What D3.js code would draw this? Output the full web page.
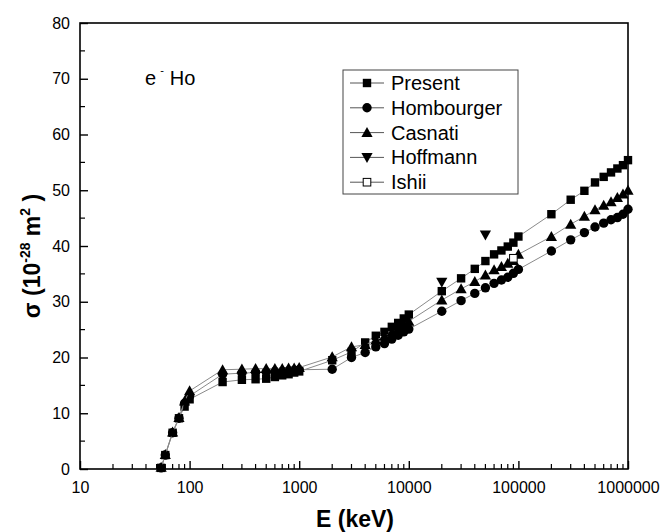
<!DOCTYPE html>
<html>
<head>
<meta charset="utf-8">
<script src="https://cdn.jsdelivr.net/npm/d3@7"></script>
<style>
  body { margin: 0; background: #fff; }
  svg { display: block; font-family: Arial, "Liberation Sans", sans-serif; }
</style>
</head>
<body>
<svg id="chart" width="661" height="532"></svg>
<script>
const energies = [55,60,70,80,90,100,200,300,400,500,600,700,800,900,1000,2000,3000,4000,5000,6000,7000,8000,9000,10000,20000,30000,40000,50000,60000,70000,80000,90000,100000,200000,300000,400000,500000,600000,700000,800000,900000,1000000];
const present    = [0.2,2.5,6.5,9.1,11.2,12.5,15.6,16.0,16.1,16.2,16.5,16.8,17.0,17.3,17.5,19.5,21.0,22.7,23.9,24.6,25.5,26.2,27.0,27.7,31.9,34.2,35.9,37.3,38.5,39.2,39.9,40.6,41.7,45.7,48.3,49.9,51.4,52.4,53.2,53.9,54.5,55.4];
const hombourger = [0.2,2.5,6.5,9.1,11.8,13.1,17.0,17.2,17.3,17.4,17.5,17.5,17.6,17.7,17.8,17.9,20.0,20.9,21.9,22.5,23.3,24.0,24.6,25.1,28.3,30.2,31.5,32.5,33.3,33.9,34.4,35.1,35.8,39.1,41.1,42.4,43.4,44.1,44.7,45.1,45.7,46.6];
const casnati    = [0.3,2.6,6.6,9.2,12.2,14.0,17.8,17.9,18.0,18.0,18.0,18.0,18.1,18.1,18.2,20.1,21.9,22.3,23.1,23.8,24.5,25.2,25.9,26.5,30.3,32.3,33.6,34.8,35.7,36.3,36.9,37.4,38.5,41.7,43.9,45.3,46.5,47.3,47.9,48.7,49.3,50.0];
const hoffmannE = [20000, 50000];
const hoffmann  = [33.5, 42.0];
const ishiiE = [90000];
const ishii  = [37.8];
const xTicks = [10,100,1000,10000,100000,1000000];
const yTicks = [0,10,20,30,40,50,60,70,80];

const svg = d3.select("#chart");
const L = 80, R = 628, T = 23, B = 469;
const x = d3.scaleLog().domain([10, 1000000]).range([L, R]);
const y = d3.scaleLinear().domain([0, 80]).range([B, T]);

const series = [
  {name: "Present", e: energies, v: present, sym: "square", line: true},
  {name: "Hombourger", e: energies, v: hombourger, sym: "circle", line: true},
  {name: "Casnati", e: energies, v: casnati, sym: "tri", line: true},
  {name: "Hoffmann", e: hoffmannE, v: hoffmann, sym: "dtri", line: false},
  {name: "Ishii", e: ishiiE, v: ishii, sym: "osquare", line: false}
];

function drawSym(g, sym, cx, cy) {
  if (sym === "square") {
    g.append("rect").attr("x", cx-4.2).attr("y", cy-4.2).attr("width", 8.4).attr("height", 8.4).attr("fill", "#000");
  } else if (sym === "circle") {
    g.append("circle").attr("cx", cx).attr("cy", cy).attr("r", 4.7).attr("fill", "#000");
  } else if (sym === "tri") {
    g.append("path").attr("d", `M${cx},${cy-5.6} L${cx+5.6},${cy+4.4} L${cx-5.6},${cy+4.4} Z`).attr("fill", "#000");
  } else if (sym === "dtri") {
    g.append("path").attr("d", `M${cx},${cy+5.6} L${cx+5.6},${cy-4.4} L${cx-5.6},${cy-4.4} Z`).attr("fill", "#000");
  } else if (sym === "osquare") {
    g.append("rect").attr("x", cx-3.8).attr("y", cy-3.8).attr("width", 7.6).attr("height", 7.6).attr("fill", "#fff").attr("stroke", "#000").attr("stroke-width", 1);
  }
}

const line = d3.line().x(d => x(d[0])).y(d => y(d[1]));
series.forEach(s => {
  const pts = s.e.map((e, i) => [e, s.v[i]]);
  const g = svg.append("g");
  if (s.line) {
    g.append("path").attr("d", line(pts)).attr("fill", "none").attr("stroke", "#8a8a8a").attr("stroke-width", 1);
  }
  pts.forEach(p => drawSym(g, s.sym, x(p[0]), y(p[1])));
});

// axes frame
svg.append("rect").attr("x", L).attr("y", T).attr("width", R-L).attr("height", B-T)
  .attr("fill", "none").attr("stroke", "#000").attr("stroke-width", 1.6);

// x ticks
const xAxis = d3.axisBottom(x).tickValues(xTicks).tickSize(-8).tickFormat(d3.format("d")).tickPadding(13);
const xg = svg.append("g").attr("transform", `translate(0,${B})`).call(xAxis);
xg.select(".domain").remove();
xg.selectAll("line").attr("stroke", "#000").attr("stroke-width", 1.4);
xg.selectAll("text").attr("font-size", 16).attr("font-family", "Arial, 'Liberation Sans', sans-serif").attr("fill", "#000");
const minorX = [];
for (let dec = 10; dec < 1000000; dec *= 10) for (let k = 2; k <= 9; k++) minorX.push(dec*k);
svg.append("g").selectAll("line").data(minorX).join("line")
  .attr("x1", d => x(d)).attr("x2", d => x(d)).attr("y1", B).attr("y2", B-5)
  .attr("stroke", "#000").attr("stroke-width", 1.2);

// y ticks
const yAxis = d3.axisLeft(y).tickValues(yTicks).tickSize(-8).tickPadding(10);
const yg = svg.append("g").attr("transform", `translate(${L},0)`).call(yAxis);
yg.select(".domain").remove();
yg.selectAll("line").attr("stroke", "#000").attr("stroke-width", 1.4);
yg.selectAll("text").attr("font-size", 16).attr("font-family", "Arial, 'Liberation Sans', sans-serif").attr("fill", "#000");
const minorY = d3.range(5, 80, 10);
svg.append("g").selectAll("line").data(minorY).join("line")
  .attr("x1", L).attr("x2", L+5).attr("y1", d => y(d)).attr("y2", d => y(d))
  .attr("stroke", "#000").attr("stroke-width", 1.2);

// axis titles
svg.append("text").attr("x", 355).attr("y", 527).attr("text-anchor", "middle")
  .attr("font-size", 23).attr("font-weight", "bold").text("E (keV)");
const yt = svg.append("text").attr("transform", `translate(40,256) rotate(-90)`)
  .attr("text-anchor", "middle").attr("font-size", 23).attr("font-weight", "bold");
yt.append("tspan").text("σ (10");
yt.append("tspan").attr("font-size", 14).attr("dy", -10).text("-28");
yt.append("tspan").attr("dy", 10).text(" m");
yt.append("tspan").attr("font-size", 14).attr("dy", -10).text("2");
yt.append("tspan").attr("dy", 10).text(" )");

// annotation
const ann = svg.append("text").attr("x", 145).attr("y", 85).attr("font-size", 20);
ann.append("tspan").text("e");
ann.append("tspan").attr("font-size", 11).attr("dy", -11).attr("dx", 4).text("-");
ann.append("tspan").attr("dy", 11).attr("dx", 6).text("Ho");

// legend
const lg = svg.append("g");
lg.append("rect").attr("x", 343).attr("y", 70).attr("width", 175).attr("height", 124)
  .attr("fill", "#fff").attr("stroke", "#444").attr("stroke-width", 1);
series.forEach((s, i) => {
  const cy = 83 + i*24.8;
  lg.append("line").attr("x1", 350).attr("x2", 384).attr("y1", cy).attr("y2", cy)
    .attr("stroke", "#555").attr("stroke-width", 1);
  const sg = lg.append("g");
  drawSym(sg, s.sym, 367, cy);
  lg.append("text").attr("x", 391).attr("y", cy + 7).attr("font-size", 20).text(s.name);
});
</script>
</body>
</html>
